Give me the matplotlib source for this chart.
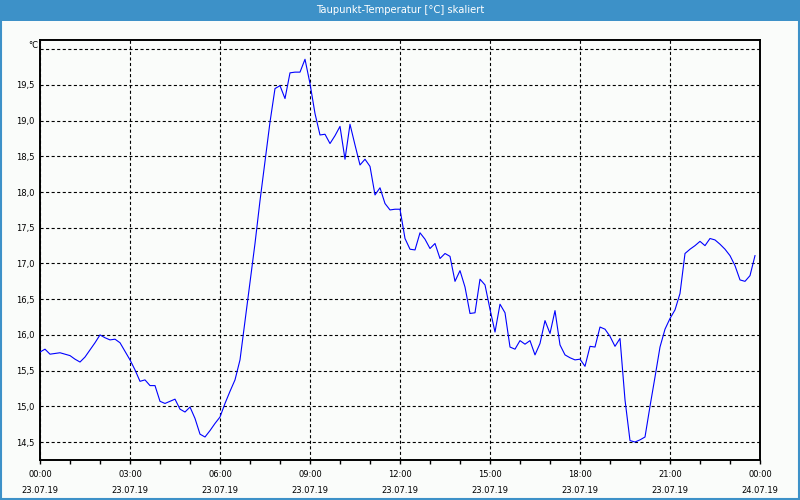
import matplotlib
matplotlib.use("Agg")
import matplotlib.pyplot as plt
from matplotlib.patches import Rectangle
from matplotlib.ticker import FixedLocator, MultipleLocator
import numpy as np

title = "Taupunkt-Temperatur [°C] skaliert"
unit = "°C"
interval_minutes = 10

dew_point = [
    15.76, 15.80, 15.73, 15.74, 15.75, 15.73, 15.71, 15.66, 15.62, 15.69,
    15.79, 15.89, 16.00, 15.96, 15.93, 15.94, 15.89, 15.77, 15.65, 15.51,
    15.35, 15.37, 15.29, 15.29, 15.07, 15.04, 15.07, 15.10, 14.96, 14.92,
    14.99, 14.83, 14.61, 14.57, 14.66, 14.76, 14.85, 15.04, 15.21, 15.37,
    15.65, 16.19, 16.72, 17.28, 17.88, 18.43, 18.98, 19.45, 19.49, 19.31,
    19.67, 19.68, 19.68, 19.86, 19.52, 19.10, 18.80, 18.81, 18.68, 18.79,
    18.92, 18.46, 18.95, 18.66, 18.38, 18.46, 18.36, 17.96, 18.06, 17.84,
    17.75, 17.76, 17.76, 17.35, 17.20, 17.19, 17.43, 17.34, 17.21, 17.28,
    17.07, 17.14, 17.10, 16.75, 16.90, 16.67, 16.30, 16.31, 16.78, 16.70,
    16.36, 16.04, 16.43, 16.31, 15.83, 15.80, 15.92, 15.87, 15.92, 15.72,
    15.88, 16.20, 16.02, 16.34, 15.86, 15.72, 15.68, 15.65, 15.66, 15.56,
    15.84, 15.83, 16.11, 16.08, 15.98, 15.84, 15.95, 15.09, 14.52, 14.50,
    14.53, 14.57, 15.00, 15.41, 15.83, 16.08, 16.23, 16.35, 16.58, 17.14,
    17.20, 17.25, 17.31, 17.25, 17.35, 17.33, 17.27, 17.20, 17.11, 16.97,
    16.77, 16.75, 16.83, 17.11,
]

x_tick_hours = [0, 3, 6, 9, 12, 15, 18, 21, 24]
x_tick_labels = [
    "00:00\n23.07.19", "03:00\n23.07.19", "06:00\n23.07.19",
    "09:00\n23.07.19", "12:00\n23.07.19", "15:00\n23.07.19",
    "18:00\n23.07.19", "21:00\n23.07.19", "00:00\n24.07.19",
]
y_ticks = [14.5, 15.0, 15.5, 16.0, 16.5, 17.0, 17.5, 18.0, 18.5, 19.0, 19.5, 20.0]
y_tick_labels = ["14,5", "15,0", "15,5", "16,0", "16,5", "17,0", "17,5",
                 "18,0", "18,5", "19,0", "19,5", ""]

hours = np.arange(len(dew_point)) * interval_minutes / 60.0

bg = "#fafcfa"
band = "#3d91c8"

fig = plt.figure(figsize=(8, 5), dpi=100, facecolor=bg)
ax = fig.add_axes([40 / 800, 40 / 500, 720 / 800, 420 / 500])
ax.set_facecolor(bg)

ax.plot(hours, dew_point, color="#0000ff", lw=0.8, zorder=3)

ax.set_xlim(0, 24)
ax.set_ylim(14.248, 20.13)

ax.xaxis.set_major_locator(FixedLocator(x_tick_hours))
ax.xaxis.set_minor_locator(MultipleLocator(1))
ax.set_xticklabels(x_tick_labels)
ax.set_yticks(y_ticks)
ax.set_yticklabels(y_tick_labels)

ax.tick_params(axis="x", which="both", direction="out", length=3, width=1,
               color="black", labelsize=6, pad=4)
ax.tick_params(axis="y", which="both", length=0, labelsize=6, pad=4)
for lab in ax.get_xticklabels():
    lab.set_linespacing(2.1)

ax.grid(True, which="major", color="black", lw=0.8,
        linestyle=(0, (2.8, 2.2)), zorder=1)

for s in ax.spines.values():
    s.set_color("black")
    s.set_linewidth(1.4)

fig.patches.append(Rectangle((0, 1 - 21 / 500), 1, 21 / 500,
                             transform=fig.transFigure, facecolor=band,
                             edgecolor="none", zorder=0))
fig.patches.append(Rectangle((0.001, 0.002), 0.998, 0.996,
                             transform=fig.transFigure, fill=False,
                             edgecolor=band, lw=1.5, zorder=5))
fig.text(0.5, 1 - 10 / 500, title, ha="center", va="center",
         color="white", fontsize=7.2)
fig.text(38 / 800, 1 - 45 / 500, unit, ha="right", va="center",
         color="black", fontsize=6)

fig.savefig("out.png", dpi=100, facecolor=bg)
